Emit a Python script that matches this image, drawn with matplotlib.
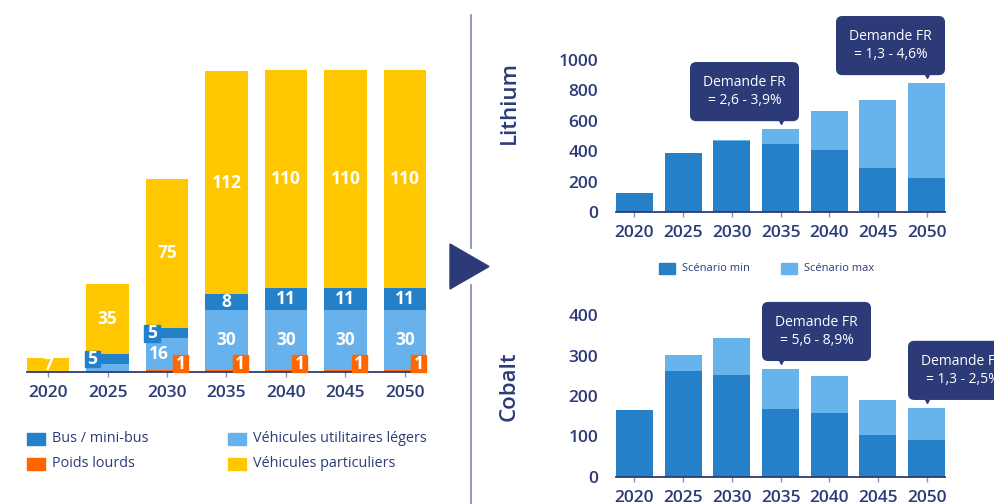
import matplotlib
matplotlib.use("Agg")
import matplotlib.pyplot as plt
from matplotlib.patches import Rectangle, Polygon
from matplotlib import transforms

plt.rcParams['font.family'] = ['Open Sans', 'DejaVu Sans']

# données - parc de véhicules (gauche)
years = ['2020', '2025', '2030', '2035', '2040', '2045', '2050']
poids_lourds = [0, 0, 1, 1, 1, 1, 1]
vul = [0, 4, 16, 30, 30, 30, 30]
bus = [0, 5, 5, 8, 11, 11, 11]
vp = [7, 35, 75, 112, 110, 110, 110]

# données - demande en métaux (droite)
lithium_min = [127, 388, 467, 447, 408, 289, 224]
lithium_max = [127, 388, 474, 546, 664, 737, 849]
cobalt_min = [166, 262, 252, 168, 158, 104, 92]
cobalt_max = [166, 302, 344, 267, 250, 190, 171]

lithium_notes = [(3, "Demande FR\n= 2,6 - 3,9%"), (6, "Demande FR\n= 1,3 - 4,6%")]
cobalt_notes = [(3, "Demande FR\n= 5,6 - 8,9%"), (6, "Demande FR\n= 1,3 - 2,5%")]

NAVY = '#2C3B78'
YELLOW = '#FEC700'
BUS = '#2580CA'
VUL = '#67B2EC'
ORANGE = '#FF6600'
DARK = '#2580C8'
LIGHT = '#67B3EB'

W, H = 995, 504
fig = plt.figure(figsize=(W / 100, H / 100), dpi=100)


def px_axes(x0, x1, ytop, ybot):
    return fig.add_axes([x0 / W, (H - ybot) / H, (x1 - x0) / W, (ybot - ytop) / H])


def style_axes(ax, show_y):
    for s in ['top', 'right', 'left']:
        ax.spines[s].set_visible(False)
    ax.spines['bottom'].set_color(NAVY)
    ax.spines['bottom'].set_linewidth(1.3)
    ax.tick_params(axis='x', length=3.5, width=1, color='#8C92B2', pad=6,
                   labelsize=12.5, labelcolor=NAVY)
    for lab in ax.get_xticklabels():
        lab.set_fontweight('semibold')
    if show_y:
        ax.tick_params(axis='y', length=0, pad=13, labelsize=12.5, labelcolor=NAVY)
        for lab in ax.get_yticklabels():
            lab.set_fontweight('semibold')
    else:
        ax.set_yticks([])


# ---------- graphique de gauche : parc ----------
ax = px_axes(27, 426, 70, 372)
x = list(range(len(years)))
bw = 0.71
b1 = poids_lourds
b2 = [a + b for a, b in zip(b1, vul)]
b3 = [a + b for a, b in zip(b2, bus)]
ax.bar(x, poids_lourds, width=bw, color=ORANGE)
ax.bar(x, vul, width=bw, bottom=b1, color=VUL)
ax.bar(x, bus, width=bw, bottom=b2, color=BUS)
ax.bar(x, vp, width=bw, bottom=b3, color=YELLOW)
ax.set_xlim(-0.355, 6.355)
ax.set_ylim(0, 151.5)
ax.set_xticks(x)
ax.set_xticklabels(years)
style_axes(ax, False)

lab_kw = dict(color='white', fontsize=12.5, fontweight='bold', ha='center', va='center')
for i in x:
    ax.text(i, b3[i] + vp[i] / 2, str(vp[i]), **lab_kw)
    if vul[i] >= 20:
        ax.text(i, b1[i] + vul[i] / 2, str(vul[i]), **lab_kw)
    elif vul[i] >= 10:
        ax.text(i - 0.13, b1[i] + vul[i] / 2, str(vul[i]), **lab_kw)
    if bus[i] >= 8:
        ax.text(i, b2[i] + bus[i] / 2, str(bus[i]), **lab_kw)
    elif bus[i] > 0:
        yc = b2[i] + bus[i] / 2
        ax.add_patch(Rectangle((i - bw / 2 - 0.03, yc - 4.2), 0.26, 8.4, color=BUS,
                               zorder=4, clip_on=False))
        ax.text(i - bw / 2 + 0.1, yc, str(bus[i]), zorder=5, **lab_kw)
    if poids_lourds[i] > 0:
        ax.add_patch(Rectangle((i + bw / 2 - 0.25, 0), 0.25, 8.5, color=ORANGE,
                               zorder=4, clip_on=False))
        ax.text(i + bw / 2 - 0.125, 4.2, str(poids_lourds[i]), zorder=5, **lab_kw)

# légendes (carré + libellé, en pixels)
def legend_item(xp, yp, w, h, color, label, size):
    fig.patches.append(Rectangle((xp / W, (H - yp - h / 2) / H), w / W, h / H,
                                 color=color, transform=fig.transFigure))
    fig.text((xp + w + 7) / W, (H - yp) / H, label, color=NAVY, fontsize=size,
             va='center', ha='left')

legend_item(27, 438.5, 18, 12, BUS, 'Bus / mini-bus', 10.4)
legend_item(27, 463.5, 18, 12, ORANGE, 'Poids lourds', 10.4)
legend_item(228, 438.5, 18, 12, VUL, 'Véhicules utilitaires légers', 10.4)
legend_item(228, 463.5, 18, 12, YELLOW, 'Véhicules particuliers', 10.4)

# séparateur + flèche
fig.add_artist(plt.Line2D([471 / W, 471 / W], [(H - 15) / H, (H - 248) / H],
                          color='#8C92B2', lw=1.3))
fig.add_artist(plt.Line2D([471 / W, 471 / W], [(H - 285) / H, 0],
                          color='#8C92B2', lw=1.3))
fig.patches.append(Polygon([(450 / W, (H - 244) / H), (450 / W, (H - 289) / H),
                            (489 / W, (H - 266.5) / H)], closed=True, color=NAVY,
                           transform=fig.transFigure))

fig.text(509 / W, (H - 103) / H, 'Lithium', rotation=90, color=NAVY, fontsize=16,
         fontweight='semibold', ha='center', va='center')
fig.text(509 / W, (H - 386) / H, 'Cobalt', rotation=90, color=NAVY, fontsize=16,
         fontweight='semibold', ha='center', va='center')


# ---------- graphiques de droite ----------
def callouts(ax, vals, notes, dx):
    for i, txt in notes:
        ax.annotate(txt, xy=(i, vals[i]), xytext=(dx, 21), textcoords='offset pixels',
                    ha='center', va='bottom', color='white', fontsize=10,
                    linespacing=1.25, annotation_clip=False, zorder=6,
                    bbox=dict(boxstyle='round,pad=0.9,rounding_size=0.4', fc=NAVY, ec=NAVY))
        tr = transforms.offset_copy(ax.transData, fig=fig, x=0, y=10, units='dots')
        ax.plot(i, vals[i], marker='v', markersize=7, color=NAVY, transform=tr,
                clip_on=False, zorder=6)


def metal_chart(ytop, ybot, vmax, vmin, ymax, ticks, notes, dx):
    ax = px_axes(616, 945, ytop, ybot)
    xr = list(range(len(years)))
    ax.bar(xr, vmax, width=0.76, color=LIGHT)
    ax.bar(xr, vmin, width=0.76, color=DARK)
    ax.set_xlim(-0.38, 6.38)
    ax.set_ylim(0, ymax)
    ax.set_yticks(ticks)
    ax.set_xticks(xr)
    ax.set_xticklabels(years)
    style_axes(ax, True)
    callouts(ax, vmax, notes, dx)
    return ax


metal_chart(60, 212, lithium_max, lithium_min, 1000, [0, 200, 400, 600, 800, 1000],
            lithium_notes, -36)
metal_chart(315, 477, cobalt_max, cobalt_min, 400, [0, 100, 200, 300, 400],
            cobalt_notes, 36)

legend_item(659, 268.5, 16, 11, DARK, 'Scénario min', 8)
legend_item(781, 268.5, 16, 11, LIGHT, 'Scénario max', 8)

fig.savefig('out.png', dpi=100)
